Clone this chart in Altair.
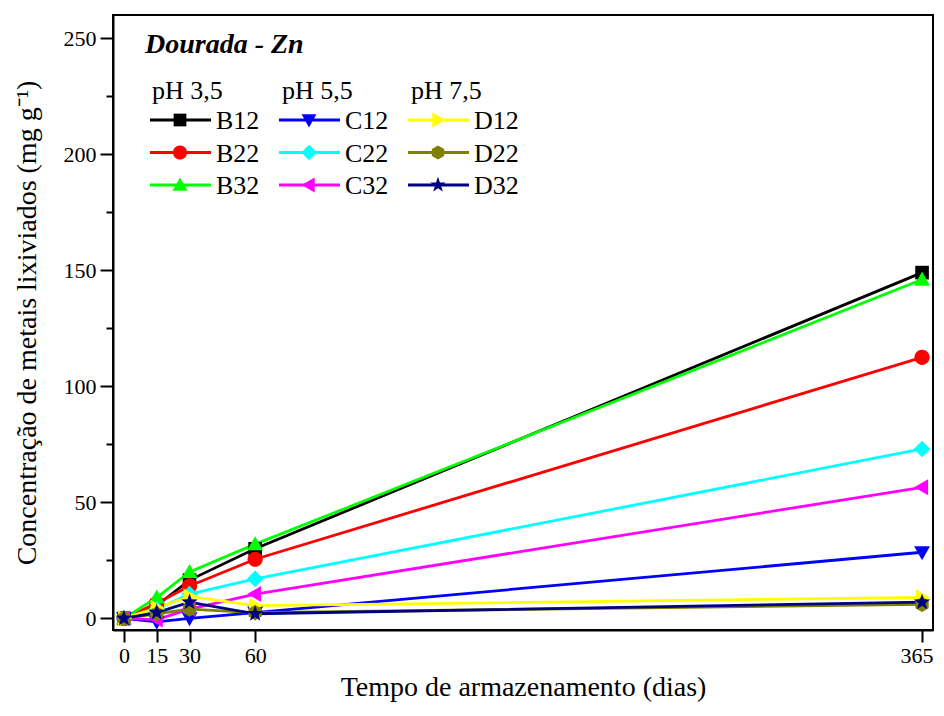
import altair as alt
import pandas as pd

days = [0, 15, 30, 60, 365]
series = ["B12", "B22", "B32", "C12", "C22", "C32", "D12", "D22", "D32"]
values = {
    "B12": [0, 5.5, 16.5, 30, 149],
    "B22": [0, 6.5, 14, 25.5, 112.5],
    "B32": [0, 9, 20, 32, 146],
    "C12": [0, -1.5, 0, 2.5, 28.5],
    "C22": [0, 4, 10.5, 17, 73],
    "C32": [0, -0.5, 4, 10.5, 56.5],
    "D12": [0, 4.5, 9.5, 5.5, 9],
    "D22": [0, 2, 4, 2.5, 6],
    "D32": [0, 2.5, 7, 2, 7],
}
colors = {
    "B12": "#000000", "B22": "#ff0000", "B32": "#00ff00",
    "C12": "#0000ff", "C22": "#00ffff", "C32": "#ff00ff",
    "D12": "#ffff00", "D22": "#808000", "D32": "#000080",
}
shapes = {
    "B12": "M-0.9,-0.9H0.9V0.9H-0.9Z",
    "B22": "M-1,0A1,1,0,1,1,1,0A1,1,0,1,1,-1,0Z",
    "B32": "M0,-1.05L1.05,0.8L-1.05,0.8Z",
    "C12": "M0,1.05L1.05,-0.8L-1.05,-0.8Z",
    "C22": "M0,-1.1L1.1,0L0,1.1L-1.1,0Z",
    "C32": "M-1.05,0L0.8,-1.05L0.8,1.05Z",
    "D12": "M1.05,0L-0.8,-1.05L-0.8,1.05Z",
    "D22": "M0,-1L0.87,-0.5L0.87,0.5L0,1L-0.87,0.5L-0.87,-0.5Z",
    "D32": "M0,-1.15L0.27,-0.37L1.09,-0.36L0.44,0.14L0.68,0.93L0,0.46L-0.68,0.93L-0.44,0.14L-1.09,-0.36L-0.27,-0.37Z",
}
ph_headers = ["pH 3,5", "pH 5,5", "pH 7,5"]

rows = []
for k, s in enumerate(series):
    for d, v in zip(days, values[s]):
        rows.append({"series": s, "dias": d, "conc": v, "ord": k})
df = pd.DataFrame(rows)
leg_df = pd.DataFrame({"series": series})

FONT = "Liberation Serif"

color_scale = alt.Scale(domain=series, range=[colors[s] for s in series])
shape_scale = alt.Scale(domain=series, range=[shapes[s] for s in series])

x = alt.X("dias:Q", scale=alt.Scale(domain=[-5, 370], nice=False, zero=False),
          axis=alt.Axis(values=days, title="Tempo de armazenamento (dias)", tickSize=12,
                        labelPadding=3, titlePadding=7,
                        labelAlign={"condition": {"test": "datum.value === 365", "value": "right"}, "value": "center"},
                        labelOffset={"condition": {"test": "datum.value === 365", "value": 11}, "value": 0}))
y = alt.Y("conc:Q", scale=alt.Scale(domain=[-5, 260], nice=False, zero=False),
          axis=alt.Axis(values=list(range(0, 251, 25)),
                        labelExpr="datum.value % 50 === 0 ? datum.label : ''",
                        tickSize={"condition": {"test": "datum.value % 50 === 0", "value": 13}, "value": 7},
                        title="Concentração de metais lixiviados (mg g⁻¹)", titlePadding=22,
                        labelPadding=4))

lines = alt.Chart(df).mark_line(strokeWidth=2.8).encode(
    x=x, y=y,
    color=alt.Color("series:N", scale=color_scale, legend=None),
    detail="series:N", order="dias:Q",
)
points = alt.Chart(df).mark_point(filled=True, size=230, opacity=1).encode(
    x=x, y=y,
    color=alt.Color("series:N", scale=color_scale, legend=None),
    shape=alt.Shape("series:N", scale=shape_scale, legend=None),
    order="ord:Q",
)

# legend drawn from the series list: column by letter (B/C/D), row by number (1/2/3)
leg_base = alt.Chart(leg_df).transform_calculate(
    col="indexof(['B','C','D'], substring(datum.series, 0, 1))",
    row="indexof(['1','2','3'], substring(datum.series, 1, 2))",
).transform_calculate(
    lx0="37 + datum.col * 129",
    lx1="37 + datum.col * 129 + 61",
    lxm="37 + datum.col * 129 + 30",
    ltx="37 + datum.col * 129 + 66",
    ly="105 + datum.row * 32.5",
    lty="105 + datum.row * 32.5 + 9",
)
leg_lines = leg_base.mark_rule(strokeWidth=2.8).encode(
    x=alt.X("lx0:Q", scale=None), x2="lx1:Q", y=alt.Y("ly:Q", scale=None),
    color=alt.Color("series:N", scale=color_scale, legend=None),
)
leg_marks = leg_base.mark_point(filled=True, size=200, opacity=1).encode(
    x=alt.X("lxm:Q", scale=None), y=alt.Y("ly:Q", scale=None),
    color=alt.Color("series:N", scale=color_scale, legend=None),
    shape=alt.Shape("series:N", scale=shape_scale, legend=None),
)
leg_text = leg_base.mark_text(font=FONT, fontSize=26, align="left", baseline="alphabetic", color="black").encode(
    x=alt.X("ltx:Q", scale=None), y=alt.Y("lty:Q", scale=None), text="series:N",
)

title_txt = alt.Chart(pd.DataFrame({"t": ["Dourada - Zn"]})).mark_text(
    font=FONT, fontSize=28, fontWeight="bold", fontStyle="italic", align="left", baseline="alphabetic"
).encode(text="t:N", x=alt.value(32), y=alt.value(38))

headers = [
    alt.Chart(pd.DataFrame({"t": [t]})).mark_text(
        font=FONT, fontSize=26, align="left", baseline="alphabetic"
    ).encode(text="t:N", x=alt.value(xv), y=alt.value(84))
    for t, xv in zip(ph_headers, [39, 169, 298])
]

chart = alt.layer(lines, points, leg_lines, leg_marks, leg_text, title_txt, *headers).properties(
    width=820, height=615,
    autosize=alt.AutoSizeParams(type="none"),
    padding={"left": 105, "top": 7, "right": 3, "bottom": 74},
).configure_view(stroke="black", strokeWidth=2).configure_axis(
    domainColor="black", domainWidth=2, tickColor="black", tickWidth=2,
    labelFont=FONT, labelFontSize=22, labelColor="black",
    titleFont=FONT, titleFontSize=28, titleFontWeight="normal", titleColor="black",
    grid=False,
)

chart.save("out.html", embed_options={"renderer": "svg", "actions": False})
